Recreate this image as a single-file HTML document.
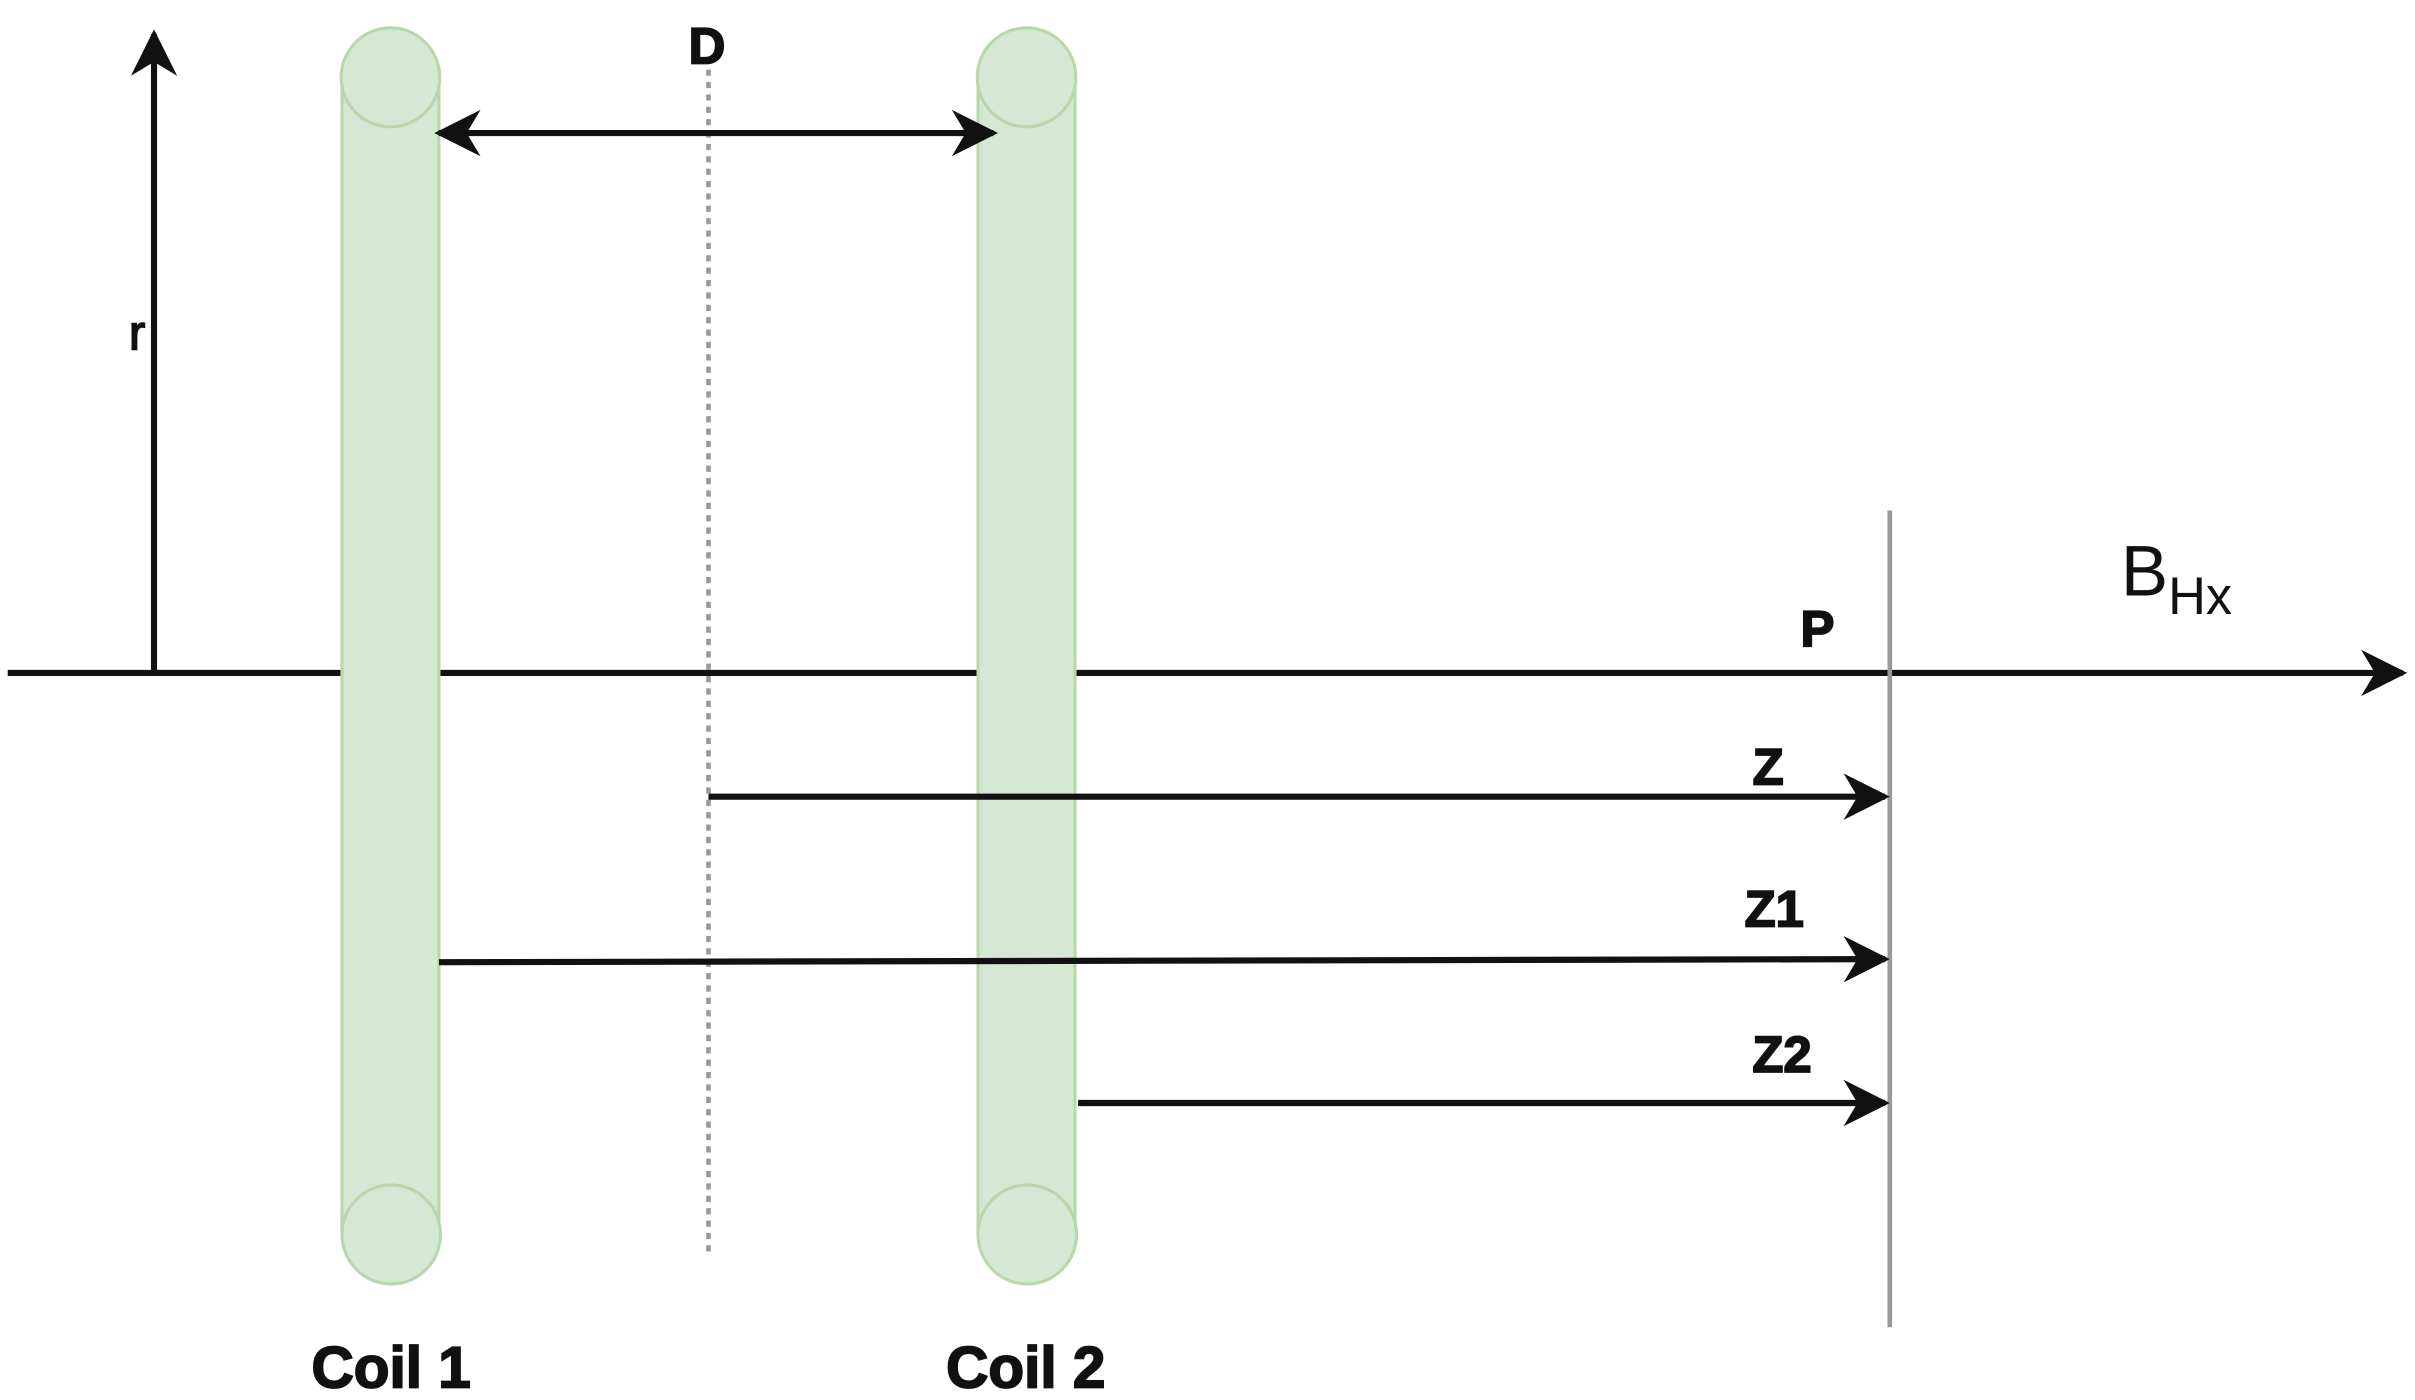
<!DOCTYPE html>
<html><head><meta charset="utf-8"><style>
html,body{margin:0;padding:0;background:#fff;}
svg{display:block;}
</style></head><body>
<svg width="2415" height="1400" viewBox="0 0 1568 905" preserveAspectRatio="none" xmlns="http://www.w3.org/2000/svg" font-family="Liberation Sans, Arial, sans-serif">
<defs>
<marker id="b" viewBox="0 0 20 20" refX="18" refY="10" markerWidth="30" markerHeight="30" markerUnits="userSpaceOnUse" orient="auto-start-reverse">
<path d="M0,0 L20,10 L0,20 L6,10 Z" fill="#111"/>
</marker>
</defs>
<line x1="5" y1="435" x2="1560" y2="435" stroke="#111" stroke-width="4" marker-end="url(#b)"/>
<line x1="100" y1="435" x2="100" y2="22" stroke="#111" stroke-width="4" marker-end="url(#b)"/>
<text x="89" y="226" font-size="32" text-anchor="middle" fill="#111" stroke="#111" stroke-width="1">r</text>
<line x1="460" y1="45" x2="460" y2="810" stroke="#999" stroke-width="3" stroke-dasharray="4,4"/>
<g fill="#d5e8d4" stroke="#b9d7ab" stroke-width="2">
<rect x="222" y="50" width="63" height="748"/>
<circle cx="253.5" cy="50" r="32"/>
<circle cx="254" cy="798" r="32"/>
<rect x="635" y="50" width="63" height="748"/>
<circle cx="666.5" cy="50" r="32"/>
<circle cx="667" cy="798" r="32"/>
</g>
<line x1="285" y1="86" x2="645" y2="86" stroke="#111" stroke-width="4" marker-start="url(#b)" marker-end="url(#b)"/>
<g font-weight="bold" text-anchor="middle" fill="#111" stroke="#111" stroke-width="1.2">
<text x="459" y="41" font-size="33">D</text>
<text x="1180" y="418" font-size="33">P</text>
<text x="1148" y="507" font-size="33">Z</text>
<text x="1152" y="599" font-size="33">Z1</text>
<text x="1157" y="693" font-size="33">Z2</text>
<text x="254" y="897" font-size="38">Coil 1</text>
<text x="666" y="897" font-size="38">Coil 2</text>
</g>
<line x1="1227" y1="330" x2="1227" y2="858" stroke="#999" stroke-width="3"/>
<text x="1377" y="385" font-size="46" fill="#111">B<tspan font-size="34" dy="12">Hx</tspan></text>
<line x1="460" y1="515" x2="1224" y2="515" stroke="#111" stroke-width="4" marker-end="url(#b)"/>
<line x1="285" y1="622" x2="1224" y2="620" stroke="#111" stroke-width="4" marker-end="url(#b)"/>
<line x1="700" y1="713" x2="1224" y2="713" stroke="#111" stroke-width="4" marker-end="url(#b)"/>
</svg>
</body></html>
